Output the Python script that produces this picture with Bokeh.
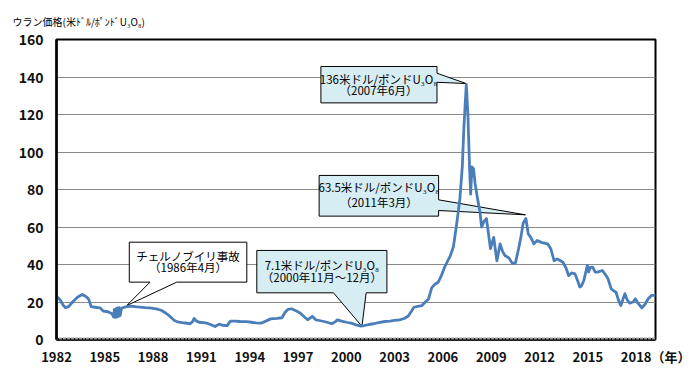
from bokeh.plotting import figure
from bokeh.models import Range1d, FixedTicker, Label, Title
from bokeh.embed import file_html
from bokeh.resources import INLINE

# ---- data ----
years = [1982.0, 1982.2, 1982.4, 1982.55, 1982.75, 1983.0, 1983.3, 1983.6, 1983.85, 1984.0,
         1984.15, 1984.4, 1984.7, 1984.9, 1985.2, 1985.45, 1985.55, 1985.6, 1985.65, 1985.7,
         1985.75, 1985.8, 1985.85, 1985.9, 1985.95, 1986.05, 1986.3, 1986.6, 1987.0, 1987.5,
         1987.8, 1988.2, 1988.5, 1988.8, 1989.1, 1989.3, 1989.5, 1989.8, 1990.0, 1990.3,
         1990.45, 1990.55, 1990.7, 1990.85, 1991.1, 1991.35, 1991.6, 1991.85, 1992.1, 1992.3,
         1992.6, 1992.8, 1993.1, 1993.4, 1993.8, 1994.1, 1994.4, 1994.7, 1995.0, 1995.3,
         1995.7, 1996.0, 1996.2, 1996.35, 1996.6, 1996.9, 1997.15, 1997.4, 1997.6, 1997.8,
         1997.9, 1998.1, 1998.4, 1998.8, 1999.1, 1999.3, 1999.45, 1999.7, 2000.0, 2000.3,
         2000.6, 2000.9, 2001.1, 2001.4, 2001.7, 2002.0, 2002.4, 2002.7, 2003.0, 2003.3,
         2003.6, 2003.85, 2004.0, 2004.2, 2004.5, 2004.7, 2004.9, 2005.1, 2005.3, 2005.5,
         2005.7, 2005.9, 2006.1, 2006.3, 2006.45, 2006.65, 2006.85, 2007.05, 2007.2, 2007.3,
         2007.45, 2007.55, 2007.65, 2007.72, 2007.8, 2007.9, 2008.0, 2008.15, 2008.3, 2008.4,
         2008.55, 2008.7, 2008.85, 2008.95, 2009.15, 2009.35, 2009.55, 2009.7, 2009.85, 2010.1,
         2010.3, 2010.5, 2010.7, 2010.85, 2010.98, 2011.15, 2011.3, 2011.45, 2011.65, 2011.85,
         2012.1, 2012.5, 2012.7, 2012.9, 2013.1, 2013.3, 2013.45, 2013.65, 2013.8, 2014.0,
         2014.2, 2014.4, 2014.5, 2014.6, 2014.75, 2014.9, 2014.97, 2015.05, 2015.15, 2015.3,
         2015.45, 2015.6, 2015.9, 2016.1, 2016.25, 2016.45, 2016.6, 2016.75, 2016.9, 2017.05,
         2017.2, 2017.3, 2017.45, 2017.6, 2017.8, 2017.95, 2018.1, 2018.35, 2018.55, 2018.75,
         2018.95, 2019.2]
prices = [23.0, 21.5, 18.5, 17.0, 17.5, 20.0, 22.5, 24.0, 22.8, 21.5,
          17.5, 17.2, 16.9, 15.2, 14.8, 13.7, 12.0, 16.0, 11.8, 16.5,
          12.0, 16.8, 12.3, 17.0, 12.8, 16.8, 17.4, 17.8, 17.4, 17.0,
          16.9, 16.3, 15.6, 14.0, 11.9, 10.3, 9.4, 9.0, 8.8, 8.4,
          9.5, 11.2, 9.8, 9.2, 9.0, 8.7, 7.9, 6.9, 8.2, 7.6,
          7.4, 9.8, 9.8, 9.6, 9.5, 9.2, 8.9, 8.7, 9.8, 11.0,
          11.3, 11.6, 14.5, 15.9, 16.4, 15.2, 14.0, 12.0, 10.5, 11.8,
          12.3, 10.5, 10.0, 9.2, 8.4, 9.4, 10.5, 9.8, 9.2, 8.7,
          7.8, 7.1, 7.4, 8.0, 8.4, 9.0, 9.6, 9.8, 10.2, 10.5,
          11.2, 12.5, 14.5, 17.2, 17.8, 18.1, 20.0, 21.5, 27.5, 29.5,
          30.5, 34.0, 38.5, 42.0, 44.5, 49.5, 61.5, 75.0, 92.0, 113.0,
          136.0, 120.0, 92.0, 77.5, 92.0, 91.0, 83.0, 75.0, 68.0, 60.0,
          63.0, 64.5, 55.0, 48.5, 54.5, 42.0, 51.0, 47.0, 44.8, 43.5,
          40.7, 40.8, 48.5, 55.0, 62.0, 64.5, 56.3, 54.5, 51.0, 52.8,
          51.8, 51.0, 48.4, 42.0, 43.0, 42.0, 41.2, 38.0, 34.1, 35.5,
          35.0, 30.5, 28.0, 28.5, 31.5, 37.0, 39.5, 36.0, 38.5, 38.6,
          36.0, 35.9, 36.8, 34.5, 32.4, 27.0, 26.0, 25.2, 21.0, 18.1,
          22.0, 24.4, 21.0, 19.4, 20.0, 21.7, 19.5, 16.9, 18.8, 21.7,
          23.5, 23.5]

x_tick_years = [1982, 1985, 1988, 1991, 1994, 1997, 2000, 2003, 2006, 2009, 2012, 2015, 2018]
y_tick_values = [0, 20, 40, 60, 80, 100, 120, 140, 160]

axis_title = "ウラン価格(米ﾄﾞﾙ/ﾎﾟﾝﾄﾞU₃O₈)"
x_unit_label = "（年）"

peak_lines = ["136米ドル/ポンドU₃O₈", "（2007年6月）"]
peak2011_lines = ["63.5米ドル/ポンドU₃O₈", "（2011年3月）"]
low_lines = ["7.1米ドル/ポンドU₃O₈", "（2000年11月～12月）"]
chernobyl_lines = ["チェルノブイリ事故", "（1986年4月）"]

FONT = "Noto Sans CJK JP"
LINE_COLOR = "#4a7ebb"
BOX_FILL = "#d6edf3"

X0, X1 = 1982, 2019.2
p = figure(width=696, height=384, output_backend="svg", toolbar_location=None,
           x_range=Range1d(X0, X1), y_range=Range1d(0, 160),
           min_border_left=56, min_border_right=41, min_border_top=39, min_border_bottom=45,
           background_fill_color="white", border_fill_color="white")
p.title.visible = False
p.outline_line_color = "black"
p.outline_line_width = 2
p.outline_line_alpha = 1

p.xgrid.visible = False
p.ygrid.grid_line_color = "#8a8a8a"
p.ygrid.grid_line_width = 1

monthly = [X0 + m / 12 for m in range(int((X1 - X0) * 12) + 1)]
p.xaxis.ticker = FixedTicker(ticks=x_tick_years, minor_ticks=monthly)
# the last tick label carries the unit; it is padded on the left by the same
# width so that "2018" stays centred on its tick
overrides = {y: str(y) for y in x_tick_years}
overrides[x_tick_years[-1]] = "\u3000" * len(x_unit_label) + str(x_tick_years[-1]) + x_unit_label
p.xaxis.major_label_overrides = overrides
p.xaxis.axis_line_color = "black"
p.xaxis.axis_line_width = 2.5
p.xaxis.major_tick_in = 0
p.xaxis.major_tick_out = 0
p.xaxis.minor_tick_in = 2
p.xaxis.minor_tick_out = 0
p.xaxis.minor_tick_line_color = "#999999"
p.xaxis.major_label_standoff = 7
p.xaxis.major_label_text_font = FONT
p.xaxis.major_label_text_font_size = "13px"
p.xaxis.major_label_text_font_style = "bold"
p.xaxis.major_label_text_color = "#111111"

p.yaxis.ticker = FixedTicker(ticks=y_tick_values)
p.yaxis.axis_line_color = "black"
p.yaxis.axis_line_width = 2.5
p.yaxis.major_tick_in = 0
p.yaxis.major_tick_out = 0
p.yaxis.minor_tick_line_color = None
p.yaxis.major_label_standoff = 13
p.yaxis.major_label_text_font = FONT
p.yaxis.major_label_text_font_size = "14px"
p.yaxis.major_label_text_font_style = "bold"
p.yaxis.major_label_text_color = "#111111"


def callout(xs, ys, fill, lines, cx, ly):
    p.patch(xs, ys, fill_color=fill, line_color="black", line_width=1)
    for t, yy in zip(lines, ly):
        p.add_layout(Label(x=cx, y=yy, text=t, text_align="center", text_baseline="middle",
                           text_font=FONT, text_font_size="11.5px", text_color="black"))


# 136 peak callout (box with pointer to the right)
callout([1998.42, 2005.63, 2005.63, 2007.45, 2005.63, 2005.63, 1998.42],
        [145.6, 145.6, 142.0, 136.5, 137.2, 126.2, 126.2],
        BOX_FILL, peak_lines, 2002.0, [139.2, 133.0])
# 63.5 callout
callout([1998.31, 2005.73, 2005.73, 2011.12, 2005.73, 2005.73, 1998.31],
        [87.5, 87.5, 74.5, 66.5, 68.8, 65.8, 65.8],
        BOX_FILL, peak2011_lines, 2002.02, [81.2, 73.4])
# 7.1 low callout (pointer down)
callout([1994.44, 2002.52, 2002.52, 2001.23, 2000.97, 1999.2, 1994.44],
        [47.5, 47.5, 24.9, 24.9, 7.0, 24.9, 24.9],
        BOX_FILL, low_lines, 1998.48, [39.6, 33.2])
# Chernobyl callout (white, pointer down-left)
callout([1986.52, 1993.82, 1993.82, 1989.47, 1986.36, 1987.81, 1986.52],
        [51.9, 51.9, 30.6, 30.6, 18.1, 30.6, 30.6],
        "white", chernobyl_lines, 1990.17, [44.8, 38.8])

p.line(years, prices, line_color=LINE_COLOR, line_width=2.8, line_join="round")

p.add_layout(Title(text=axis_title, align="left", offset=-44, standoff=21, text_font=FONT,
                   text_font_size="10px", text_font_style="normal", text_color="black"), "above")

open("out.html", "w").write(file_html(p, INLINE))
